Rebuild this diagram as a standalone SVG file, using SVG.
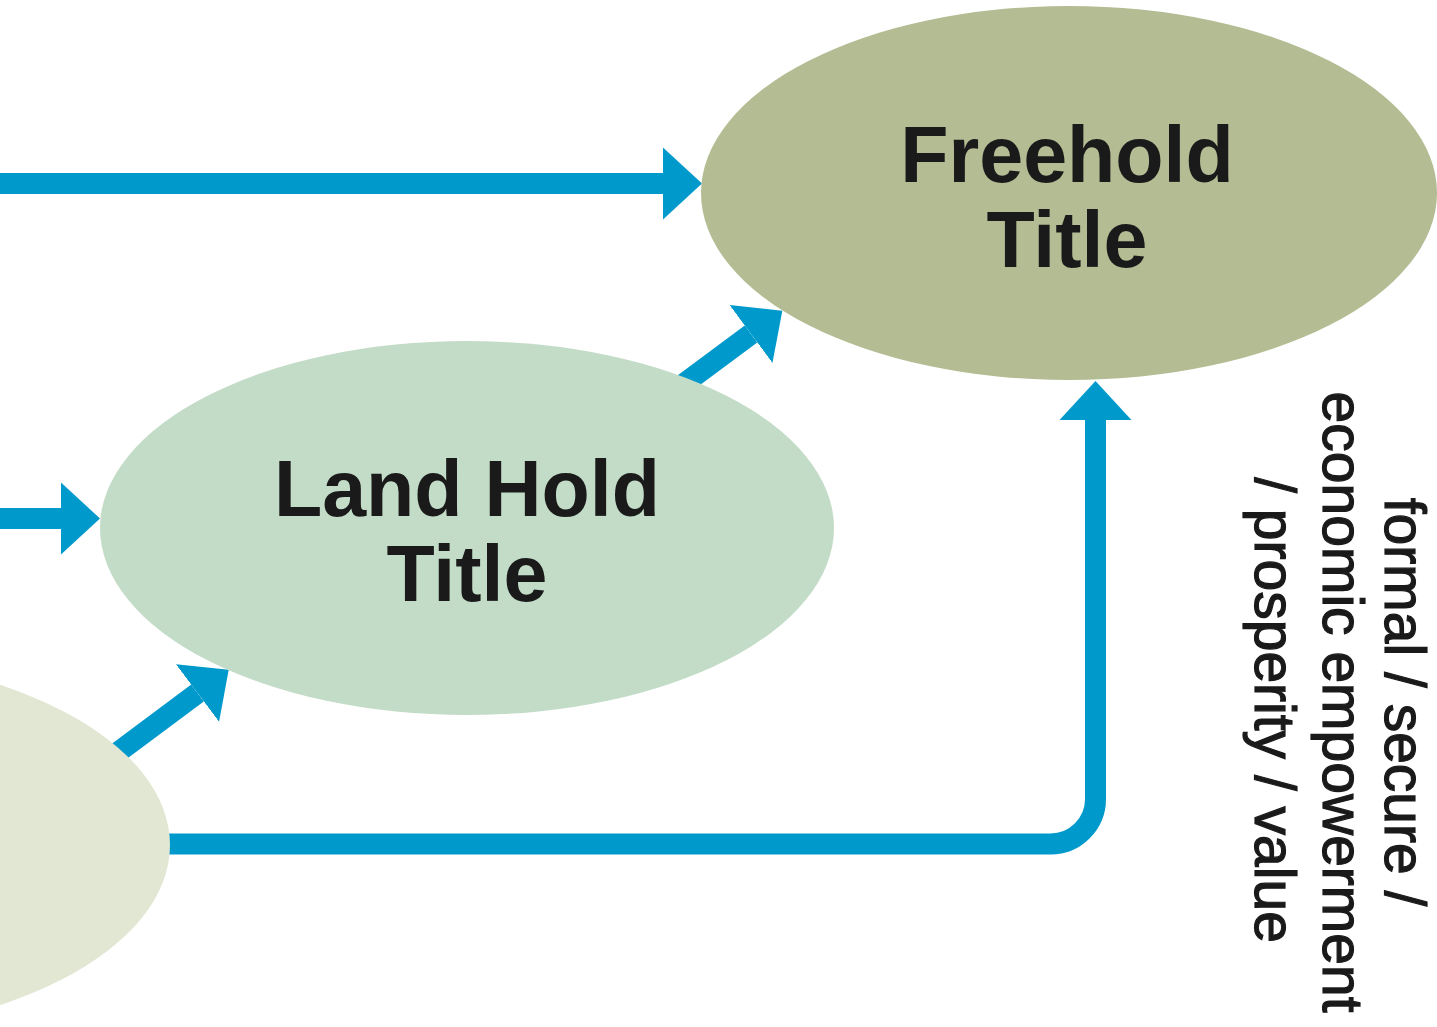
<svg xmlns="http://www.w3.org/2000/svg" width="1437" height="1027" viewBox="0 0 1437 1027">
<style>
.conn{fill:none;stroke:#0099cc;stroke-width:21}
.title{font-family:"Liberation Sans",Arial,sans-serif;font-weight:bold;font-size:79px;fill:#1a1a1a;text-anchor:middle}
.side{font-family:"Liberation Sans",Arial,sans-serif;font-size:57px;fill:#1a1a1a;stroke:#1a1a1a;stroke-width:1.2;text-anchor:middle}
</style>
<defs>
<marker id="ah" markerUnits="userSpaceOnUse" markerWidth="40" markerHeight="74" viewBox="0 -37 40 74" refX="0" refY="0" orient="auto">
<path d="M0,-36 L39,0 L0,36 Z" fill="#0099cc"/>
</marker>
</defs>
<rect width="1437" height="1027" fill="#ffffff"/>
<g id="connectors">
<line class="conn" x1="0" y1="183.5" x2="663" y2="183.5" marker-end="url(#ah)"/>
<line class="conn" x1="0" y1="518.5" x2="61" y2="518.5" marker-end="url(#ah)"/>
<line class="conn" x1="650" y1="409" x2="751" y2="334" marker-end="url(#ah)"/>
<line class="conn" x1="101" y1="765" x2="197.5" y2="693" marker-end="url(#ah)"/>
<path class="conn" d="M150,844 H1050 A45,45 0 0 0 1095.5,799 V420" marker-end="url(#ah)"/>
</g>
<g id="node-base">
<ellipse cx="-198" cy="845" rx="368" ry="190" fill="#e2e7d3"/>
</g>
<g id="node-landhold">
<ellipse cx="467" cy="528" rx="367" ry="187" fill="#c3dcc7"/>
<text class="title" x="467" y="516">Land Hold</text>
<text class="title" x="467" y="601">Title</text>
</g>
<g id="node-freehold">
<ellipse cx="1069" cy="193" rx="368" ry="187" fill="#b3bc92"/>
<text class="title" x="1067" y="182">Freehold</text>
<text class="title" x="1067" y="267">Title</text>
</g>
<g id="side-label">
<text class="side" transform="translate(1385,710) rotate(90)">
<tspan x="0" y="0">formal / secure /</tspan>
<tspan x="0" y="62">economic empowerment</tspan>
<tspan x="0" y="130">/ prosperity / value</tspan>
</text>
</g>
</svg>
